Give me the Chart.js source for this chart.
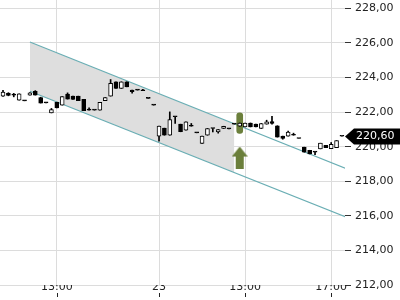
<!DOCTYPE html>
<html><head><meta charset="utf-8">
<script src="https://cdn.jsdelivr.net/npm/chart.js@4"></script>
<style>html,body{margin:0;padding:0;background:#fff}#wrap{width:400px;height:300px}</style>
</head><body><div id="wrap"><canvas id="c" width="400" height="300"></canvas></div>
<script>
// 15-minute candles, 22nd (from 10:30) and 23rd
const times = ['10:30','10:45','11:00','11:15','11:30','11:45','12:00','12:15','12:30','12:45','13:00','13:15','13:30','13:45','14:00','14:15','14:30','14:45','15:00','15:15','15:30','15:45','16:00','16:15','16:30','16:45','17:00','17:15','17:30',
  '09:00','09:15','09:30','09:45','10:00','10:15','10:30','10:45','11:00','11:15','11:30','11:45','12:00','12:15','12:30','12:45','13:00','13:15','13:30','13:45','14:00','14:15','14:30','14:45','15:00','15:15','15:30','15:45','16:00','16:15','16:30','16:45','17:00','17:15','17:30'];
const opens  = [222.92,223.09,222.98,222.69,222.65,222.98,223.20,222.84,222.53,221.95,222.57,222.40,223.04,222.92,222.92,222.73,222.11,222.11,222.11,222.66,222.92,223.75,223.37,223.75,223.27,223.27,223.23,222.79,222.40,
  220.61,221.07,220.66,221.73,221.30,220.95,221.18,220.80,220.18,220.66,221.05,220.85,221.05,221.03,221.30,221.18,221.14,221.37,221.30,221.05,221.30,221.45,221.21,220.61,220.61,220.66,220.47,219.97,219.79,219.68,219.87,220.07,219.89,219.94,220.60];
const highs  = [223.25,223.12,223.08,223.06,222.65,223.13,223.24,222.86,222.53,222.21,222.57,222.89,223.11,222.92,222.92,222.73,222.24,222.11,222.57,222.84,223.88,223.75,223.75,223.75,223.27,223.27,223.31,222.79,222.40,
  221.19,221.07,222.01,221.73,221.30,221.43,221.34,220.80,220.61,221.05,221.05,220.99,221.18,221.03,221.30,221.37,221.37,221.37,221.30,221.34,221.53,221.76,221.21,220.61,220.90,220.78,220.47,219.97,219.79,219.68,220.20,220.07,220.24,220.35,220.60];
const lows   = [222.90,222.94,222.88,222.69,222.65,222.98,222.98,222.52,222.53,221.95,222.24,222.40,222.75,222.73,222.66,222.08,222.11,222.11,222.11,222.66,222.92,223.37,223.37,223.46,223.09,223.27,223.23,222.79,222.40,
  220.32,220.66,220.66,221.34,220.86,220.95,221.18,220.80,220.18,220.66,220.85,220.78,221.05,221.03,221.30,221.18,221.14,221.14,221.14,221.05,221.30,221.30,220.55,220.43,220.61,220.66,220.47,219.68,219.58,219.53,219.87,219.94,219.89,219.94,220.60];
const closes = [223.15,222.96,222.98,223.06,222.65,223.11,222.98,222.52,222.53,222.15,222.24,222.89,222.75,222.73,222.66,222.08,222.11,222.11,222.57,222.84,223.66,223.37,223.75,223.46,223.18,223.27,223.23,222.79,222.40,
  221.19,220.66,221.57,221.73,220.86,221.43,221.18,220.80,220.61,221.05,221.05,220.99,221.18,221.03,221.30,221.37,221.37,221.14,221.14,221.34,221.43,221.35,220.55,220.47,220.84,220.66,220.47,219.68,219.58,219.68,220.20,219.94,220.14,220.35,220.60];

const xTickIndex  = [10, 29, 45, 61];
const xTickLabels = ['13:00', '23', '13:00', '17:00'];
const yTicks = [212, 214, 216, 218, 220, 222, 224, 226, 228];

// trend channel (candle index, price)
const channelUpperIdx = [5, 63.6];
const channelUpperVal = [226.05, 218.75];
const channelLowerIdx = [5, 63.6];
const channelLowerVal = [223.20, 215.95];
const channelFillIdx = [5, 43];
const channelFillUpper = [226.05, 221.31];
const channelFillLower = [223.20, 218.50];

// signal marker
const signalIdx = 44;
const signalBar = [220.77, 221.96];
const signalArrowVal = 219.37;

const lastPrice = closes[closes.length - 1];
const fmt = v => v.toFixed(2).replace('.', ',');

const GREEN = '#6b7f3b';
const arrow = document.createElement('canvas');
arrow.width = 16; arrow.height = 22;
(function(){
  const a = arrow.getContext('2d');
  a.fillStyle = GREEN;
  a.beginPath();
  a.moveTo(8, 0); a.lineTo(16, 10); a.lineTo(12, 10); a.lineTo(12, 22);
  a.lineTo(4, 22); a.lineTo(4, 10); a.lineTo(0, 10); a.closePath(); a.fill();
})();

Chart.defaults.font.family = 'DejaVu Sans';
Chart.defaults.font.size = 11;
Chart.defaults.color = '#333';

const pts = (xs, ys) => xs.map((x, i) => ({x: x, y: ys[i]}));
const up = i => closes[i] >= opens[i];
const noPad = s => { s.paddingLeft = 0; s.paddingRight = 0; s.paddingTop = 0; s.paddingBottom = 0; };

const priceLabel = {
  id: 'priceLabel',
  afterDraw(chart) {
    const ctx = chart.ctx, ys = chart.scales.y, xs = chart.scales.x;
    const y = Math.round(ys.getPixelForValue(lastPrice)) + 0.5;
    const x0 = chart.chartArea.right;
    ctx.save();
    // small x tick marks under the labels
    ctx.strokeStyle = '#222';
    ctx.lineWidth = 1;
    xTickIndex.forEach(v => {
      const px = Math.round(xs.getPixelForValue(v)) + 0.5;
      ctx.beginPath(); ctx.moveTo(px, xs.bottom - 7); ctx.lineTo(px, xs.bottom - 3); ctx.stroke();
    });
    ctx.fillStyle = '#000';
    ctx.beginPath();
    ctx.moveTo(x0, y); ctx.lineTo(x0 + 9, y - 8); ctx.lineTo(400, y - 8);
    ctx.lineTo(400, y + 8); ctx.lineTo(x0 + 9, y + 8); ctx.closePath(); ctx.fill();
    ctx.fillStyle = '#fff';
    ctx.font = '11px "DejaVu Sans"';
    ctx.textBaseline = 'middle';
    ctx.fillText(fmt(lastPrice), x0 + 11, y);
    ctx.restore();
  }
};

new Chart(document.getElementById('c'), {
  type: 'bar',
  data: {
    datasets: [
      { type: 'line', data: pts(channelFillIdx, channelFillUpper), fill: '+1', backgroundColor: '#dedede', borderWidth: 0, pointRadius: 0, order: 10 },
      { type: 'line', data: pts(channelFillIdx, channelFillLower), fill: false, borderWidth: 0, pointRadius: 0, order: 10 },
      { type: 'line', data: pts(channelUpperIdx, channelUpperVal), borderColor: '#6aaeb4', borderWidth: 1.2, pointRadius: 0, fill: false, order: 6 },
      { type: 'line', data: pts(channelLowerIdx, channelLowerVal), borderColor: '#6aaeb4', borderWidth: 1.2, pointRadius: 0, fill: false, order: 6 },
      { type: 'bar', data: [{x: signalIdx, y: signalBar}], backgroundColor: GREEN, barThickness: 6, borderRadius: 3, borderSkipped: false, grouped: false, order: 5 },
      { type: 'line', data: [{x: signalIdx, y: signalArrowVal}], showLine: false, pointStyle: arrow, pointRadius: 10, order: 4 },
      { type: 'bar', data: times.map((t, i) => ({x: i, y: [lows[i], highs[i]]})), backgroundColor: '#000', barThickness: 1, grouped: false, order: 3 },
      { type: 'bar', data: times.map((t, i) => ({x: i, y: [opens[i], closes[i]]})),
        backgroundColor: c => up(c.dataIndex) && closes[c.dataIndex] !== opens[c.dataIndex] ? '#fff' : '#000',
        borderColor: '#000', borderWidth: 1, borderSkipped: false, barThickness: 4, minBarLength: 1, grouped: false, order: 2 }
    ]
  },
  options: {
    responsive: false, animation: false, devicePixelRatio: 1,
    layout: { padding: 0, autoPadding: false },
    plugins: { legend: { display: false }, tooltip: { enabled: false } },
    scales: {
      x: {
        type: 'linear', min: -0.56, max: 63.57, offset: false,
        afterBuildTicks: s => { s.ticks = xTickIndex.map(v => ({value: v})); },
        afterFit: s => { s.height = 15; noPad(s); },
        ticks: { callback: (v, i) => xTickLabels[i], maxRotation: 0, autoSkip: false, padding: -4, color: '#222' },
        grid: { color: '#dcdcdc', drawTicks: false, offset: false },
        border: { display: false }
      },
      y: {
        position: 'right', min: 212, max: 228.48,
        afterBuildTicks: s => { s.ticks = yTicks.map(v => ({value: v})); },
        afterFit: s => { s.width = 55; noPad(s); },
        ticks: { callback: v => fmt(v), padding: 4, color: '#222' },
        grid: { color: '#dcdcdc', tickColor: '#333', tickLength: 6 },
        border: { display: false }
      }
    }
  },
  plugins: [priceLabel]
});
</script></body></html>
